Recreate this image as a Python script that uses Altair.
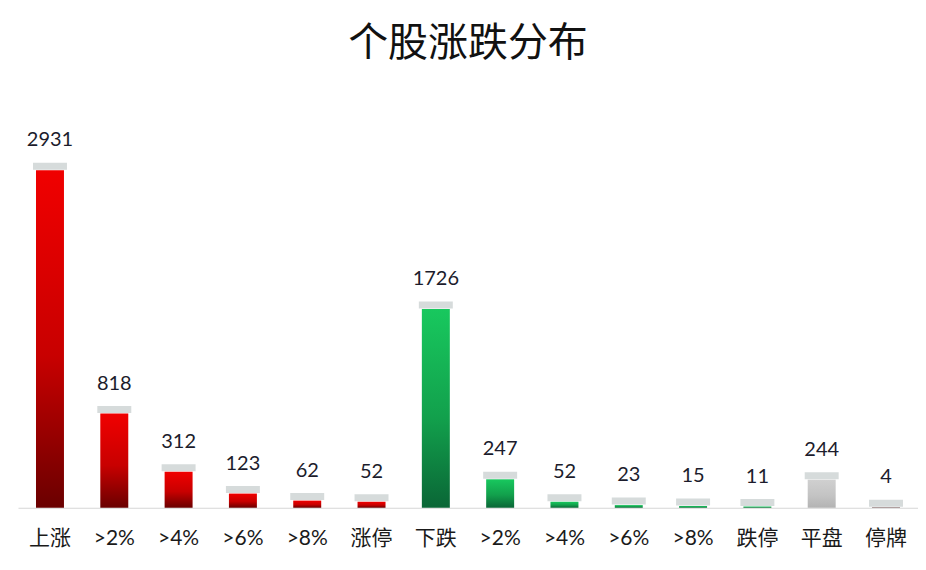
import pandas as pd
import altair as alt

labels = ["上涨", ">2%", ">4%", ">6%", ">8%", "涨停",
          "下跌", ">2%", ">4%", ">6%", ">8%", "跌停", "平盘", "停牌"]
counts = [2931, 818, 312, 123, 62, 52, 1726, 247, 52, 23, 15, 11, 244, 4]
groups = ["up"] * 6 + ["down"] * 6 + ["flat", "halt"]

df = pd.DataFrame({"idx": list(range(len(labels))), "label": labels,
                   "count": counts, "grp": groups})

label_expr = "[" + ",".join("'%s'" % s for s in labels) + "][datum.value]"

FONT = "Lato, 'Noto Sans CJK SC', sans-serif"

x_enc = alt.X("idx:O", title=None,
              scale=alt.Scale(paddingInner=0.565, paddingOuter=0.28),
              axis=alt.Axis(labelExpr=label_expr, labelAngle=0, ticks=False,
                            domainColor="#d6d6d6", labelFont=FONT,
                            labelFontSize=21, labelColor="#1a1a1a",
                            labelPadding=20))
y_enc = alt.Y("count:Q", title=None, axis=None,
              scale=alt.Scale(domain=[0, 3400]))

base = alt.Chart(df).encode(x=x_enc, y=y_enc)


def grad(top, mid, bottom):
    return alt.Gradient(gradient="linear",
                        stops=[alt.GradientStop(color=top, offset=0),
                               alt.GradientStop(color=mid, offset=0.55),
                               alt.GradientStop(color=bottom, offset=1)],
                        x1=0, x2=0, y1=0, y2=1)


caps = base.mark_tick(color="#98a4a4", opacity=0.4, thickness=7, size=34,
                      yOffset=-4)

bar_layers = []
for g, top, mid, bottom in [("up", "#f00000", "#c80000", "#6a0000"),
                            ("down", "#18c85e", "#12a04c", "#0a6636"),
                            ("flat", "#d0d0d0", "#c4c4c4", "#b3b3b3"),
                            ("halt", "#6b4444", "#5a3838", "#4a2a2a")]:
    bar_layers.append(
        base.transform_filter(alt.datum.grp == g)
        .mark_bar(size=28, color=grad(top, mid, bottom))
    )

text = base.mark_text(dy=-30, baseline="middle", font=FONT, fontSize=20,
                      color="#1c1c2c").encode(text="count:Q")

chart = (
    alt.layer(caps, *bar_layers, text)
    .properties(
        width=901, height=392,
        padding={"left": 10, "top": 16, "right": 0, "bottom": 5},
        title=alt.Title("个股涨跌分布", font="'Noto Sans CJK SC'", fontSize=40,
                        fontWeight="normal", color="#111111", offset=52),
        background="white",
    )
    .configure_view(stroke=None)
)

chart.save("out.html", embed_options={"renderer": "svg", "actions": False})
